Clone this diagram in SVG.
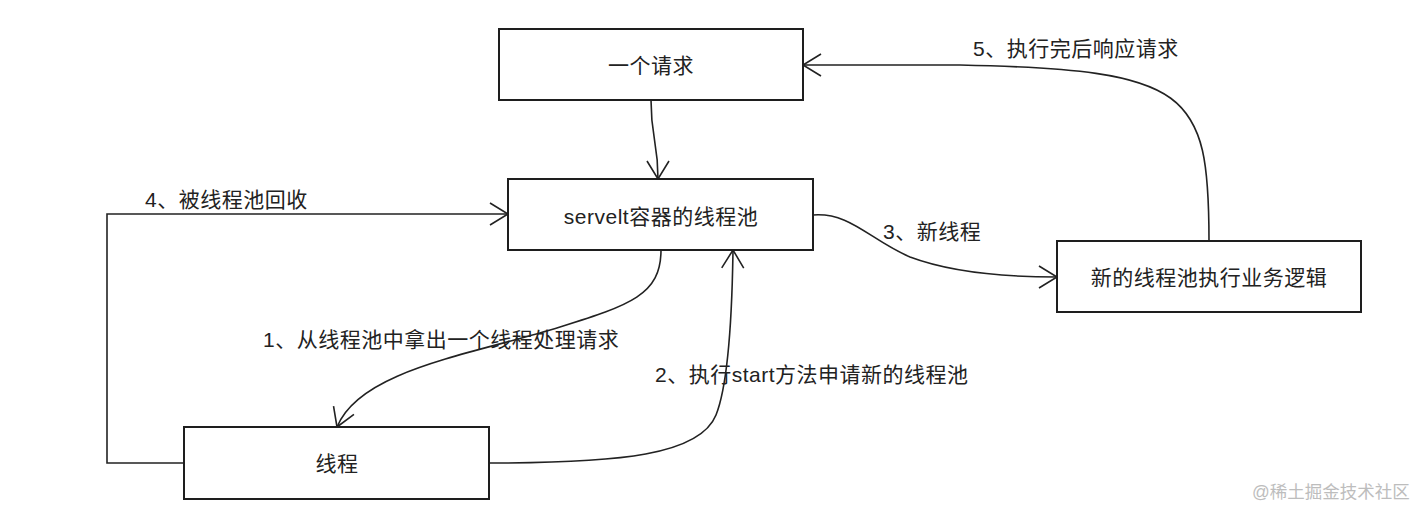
<svg xmlns="http://www.w3.org/2000/svg" width="1428" height="516" viewBox="0 0 1428 516">
<style>
.box{fill:#fff;stroke:#1e1e1e;stroke-width:2}
.t{font-family:"Liberation Sans","Noto Sans CJK SC",sans-serif;font-size:21px;letter-spacing:0.5px;fill:#222;dominant-baseline:central}
.c{text-anchor:middle}
.ln{fill:none;stroke:#222;stroke-width:1.6}
.wm{font-family:"Liberation Sans","Noto Sans CJK SC",sans-serif;font-size:17.5px;fill:#bdbdbd;dominant-baseline:central}
</style>
<defs>
<marker id="arr" markerUnits="userSpaceOnUse" viewBox="-20 -13 24 26" markerWidth="24" markerHeight="26" refX="0" refY="0" orient="auto" overflow="visible">
<path d="M-18,-11 L0,0 L-18,11" fill="none" stroke="#222" stroke-width="1.6"/>
</marker>
</defs>
<rect width="1428" height="516" fill="#fff"/>
<g id="connectors">
<path class="ln" d="M651,100 C651,140 658,140 658,179" marker-end="url(#arr)"/>
<path class="ln" d="M1209,241 C1209,90 1190,70 960,65 L803,65" marker-end="url(#arr)"/>
<path class="ln" d="M813,215 C850,212 870,240 910,257 C950,272 1000,277 1057,277" marker-end="url(#arr)"/>
<path class="ln" d="M184,463 L107,463 L107,214 L508,214" marker-end="url(#arr)"/>
<path class="ln" d="M661,250 C661,295 630,305 560,327 C470,355 360,370 337,427" marker-end="url(#arr)"/>
<path class="ln" d="M489,463 C620,463 700,455 716,415 C728,385 732,320 733,250" marker-end="url(#arr)"/>
<text class="t" x="973" y="48">5、执行完后响应请求</text>
<text class="t" x="883" y="231">3、新线程</text>
<text class="t" x="145" y="199">4、被线程池回收</text>
<text class="t" x="263" y="339">1、从线程池中拿出一个线程处理请求</text>
<text class="t" x="655" y="374">2、执行start方法申请新的线程池</text>
</g>
<g id="node-request">
<rect class="box" x="499" y="29" width="304" height="71"/>
<text class="t c" x="651" y="65">一个请求</text>
</g>
<g id="node-pool">
<rect class="box" x="508" y="179" width="305" height="71"/>
<text class="t c" x="661" y="216">servelt容器的线程池</text>
</g>
<g id="node-newpool">
<rect class="box" x="1057" y="241" width="304" height="71"/>
<text class="t c" x="1209" y="277">新的线程池执行业务逻辑</text>
</g>
<g id="node-thread">
<rect class="box" x="184" y="427" width="305" height="72"/>
<text class="t c" x="337" y="463">线程</text>
</g>
<text class="wm" x="1252" y="492">@稀土掘金技术社区</text>
</svg>
